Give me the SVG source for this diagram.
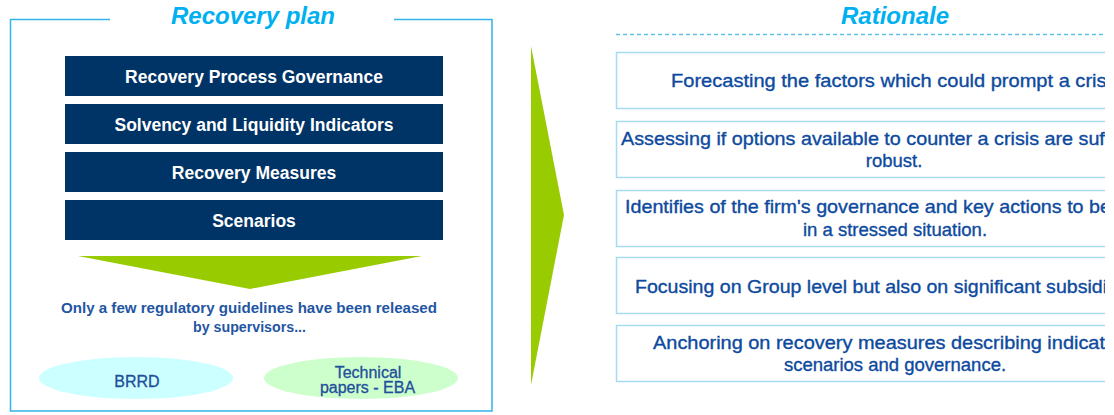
<svg xmlns="http://www.w3.org/2000/svg" width="1114" height="415" viewBox="0 0 1114 415">
  <defs>
    <clipPath id="crop"><rect x="0" y="0" width="1105" height="415"/></clipPath>
    <style>
      .frame{fill:none;stroke:#33b3ea;stroke-width:1.5}
      .title{font-family:"Liberation Sans",Arial,sans-serif;font-weight:bold;font-style:italic;font-size:24px;fill:#00b0f0;text-anchor:middle}
      .navy{fill:#003366}
      .navytxt{font-family:"Liberation Sans",Arial,sans-serif;font-weight:bold;font-size:17.5px;fill:#ffffff;text-anchor:middle}
      .green{fill:#99cc00}
      .note{font-family:"Liberation Sans",Arial,sans-serif;font-weight:bold;font-size:14px;fill:#1f56a3;text-anchor:middle}
      .elltxt{font-family:"Liberation Sans",Arial,sans-serif;font-size:16px;fill:#1f4e9a;stroke:#1f4e9a;stroke-width:0.3;text-anchor:middle}
      .rbox{fill:#ffffff;stroke:#a6dbf4;stroke-width:1.5}
      .rtxt{font-family:"Liberation Sans",Arial,sans-serif;font-size:18.5px;fill:#0d4a9e;stroke:#0d4a9e;stroke-width:0.35}
      .mid{text-anchor:middle}
      .dash{stroke:#5cc1ec;stroke-width:1.5;stroke-dasharray:4 3;fill:none}
    </style>
  </defs>
  <rect width="1114" height="415" fill="#ffffff"/>

  <g id="recovery-plan">
    <path class="frame" d="M110,19.5 H10.5 V411 H492 V19.5 H394"/>
    <text class="title" x="253" y="24">Recovery plan</text>
  </g>

  <g id="box-governance">
    <rect class="navy" x="65" y="56" width="378" height="40"/>
    <text class="navytxt" x="254" y="83">Recovery Process Governance</text>
  </g>
  <g id="box-indicators">
    <rect class="navy" x="65" y="104" width="378" height="40"/>
    <text class="navytxt" x="254" y="131">Solvency and Liquidity Indicators</text>
  </g>
  <g id="box-measures">
    <rect class="navy" x="65" y="152" width="378" height="40"/>
    <text class="navytxt" x="254" y="179">Recovery Measures</text>
  </g>
  <g id="box-scenarios">
    <rect class="navy" x="65" y="200" width="378" height="40"/>
    <text class="navytxt" x="254" y="227">Scenarios</text>
  </g>

  <g id="connectors">
    <polygon id="down-arrow" class="green" points="78,256 422,256 250,289"/>
    <polygon id="right-arrow" class="green" points="531,46 564,215 531,385"/>
  </g>

  <g id="note">
    <text class="note" x="249" y="313" textLength="376" lengthAdjust="spacingAndGlyphs">Only a few regulatory guidelines have been released</text>
    <text class="note" x="249.5" y="332" textLength="113" lengthAdjust="spacingAndGlyphs">by supervisors...</text>
  </g>

  <g id="brrd">
    <ellipse cx="136" cy="378" rx="97" ry="21" fill="#ccffff"/>
    <text class="elltxt" x="137" y="387">BRRD</text>
  </g>
  <g id="eba">
    <ellipse cx="361" cy="378" rx="97" ry="21" fill="#ccffcc"/>
    <text class="elltxt" x="368" y="378">Technical</text>
    <text class="elltxt" x="367.5" y="393">papers - EBA</text>
  </g>

  <g id="rationale" clip-path="url(#crop)">
    <text class="title" x="895" y="24">Rationale</text>
    <line class="dash" x1="616" y1="34.5" x2="1105" y2="34.5"/>

    <g id="r1">
      <rect class="rbox" x="616.5" y="52.5" width="558" height="56"/>
      <text class="rtxt" x="671" y="87" textLength="440" lengthAdjust="spacingAndGlyphs">Forecasting the factors which could prompt a crisi</text>
    </g>
    <g id="r2">
      <rect class="rbox" x="616.5" y="121.5" width="558" height="56"/>
      <text class="rtxt" x="621" y="145" textLength="489" lengthAdjust="spacingAndGlyphs">Assessing if options available to counter a crisis are suff</text>
      <text class="rtxt mid" x="894" y="167">robust.</text>
    </g>
    <g id="r3">
      <rect class="rbox" x="616.5" y="190.5" width="558" height="56"/>
      <text class="rtxt" x="625" y="213" textLength="486" lengthAdjust="spacingAndGlyphs">Identifies of the firm's governance and key actions to be</text>
      <text class="rtxt mid" x="895" y="236">in a stressed situation.</text>
    </g>
    <g id="r4">
      <rect class="rbox" x="616.5" y="257.5" width="558" height="56"/>
      <text class="rtxt" x="635" y="293" textLength="472" lengthAdjust="spacingAndGlyphs">Focusing on Group level but also on significant subsidi</text>
    </g>
    <g id="r5">
      <rect class="rbox" x="616.5" y="325.5" width="558" height="56"/>
      <text class="rtxt" x="653" y="349" textLength="452" lengthAdjust="spacingAndGlyphs">Anchoring on recovery measures describing indicat</text>
      <text class="rtxt mid" x="895" y="371">scenarios and governance.</text>
    </g>
  </g>
</svg>
